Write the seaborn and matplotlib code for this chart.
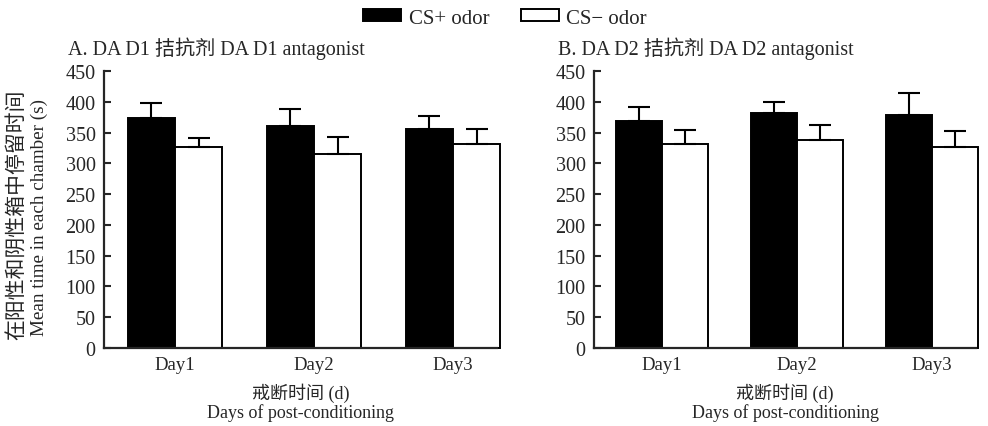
import numpy as np
import pandas as pd
import matplotlib
matplotlib.use('Agg')
import matplotlib.pyplot as plt
from matplotlib.patches import Patch
import seaborn as sns

days = ['Day1', 'Day2', 'Day3']
odors = ['CS+ odor', 'CS\u2212 odor']

# panel A: DA D1 antagonist
d1_plus = [373, 361, 355]
d1_plus_err = [25, 28, 22]
d1_minus = [326, 315, 331]
d1_minus_err = [15, 27, 24]

# panel B: DA D2 antagonist
d2_plus = [369, 382, 378]
d2_plus_err = [22, 18, 37]
d2_minus = [331, 338, 326]
d2_minus_err = [23, 24, 27]

titles = ['A. DA D1 拮抗剂 DA D1 antagonist', 'B. DA D2 拮抗剂 DA D2 antagonist']

sns.set_style('ticks')
FONTS = ['Liberation Serif', 'Noto Sans CJK SC', 'DejaVu Sans']
plt.rcParams['font.family'] = FONTS
plt.rcParams['font.size'] = 13
plt.rcParams['axes.unicode_minus'] = True

W, H = 988, 427
fig = plt.figure(figsize=(W / 100, H / 100), dpi=100)


def make_df(plus, plus_err, minus, minus_err):
    rows = []
    for i, d in enumerate(days):
        rows.append({'day': d, 'odor': odors[0], 'mean': plus[i], 'err': plus_err[i]})
        rows.append({'day': d, 'odor': odors[1], 'mean': minus[i], 'err': minus_err[i]})
    return pd.DataFrame(rows)


panels = [
    (make_df(d1_plus, d1_plus_err, d1_minus, d1_minus_err), (104, 497), -0.51, 2.317, 68),
    (make_df(d2_plus, d2_plus_err, d2_minus, d2_minus_err), (594, 976), -0.504, 2.326, 558),
]

for k, (df, (x0, x1), xl, xr, tx) in enumerate(panels):
    ax = fig.add_axes([x0 / W, 1 - 349 / H, (x1 - x0) / W, (349 - 72) / H])
    sns.barplot(data=df, x='day', y='mean', hue='odor', hue_order=odors, order=days,
                palette=['black', 'white'], edgecolor='black', linewidth=1.4,
                width=0.68, errorbar=None, legend=False, ax=ax)
    for p in ax.patches:
        p.set_clip_on(False)
    # one-sided (upper) error bars placed on the drawn bars
    bars = sorted(ax.patches, key=lambda p: p.get_x())
    for p, (_, row) in zip(bars, df.iterrows()):
        ax.errorbar(p.get_x() + p.get_width() / 2, p.get_height(),
                    yerr=[[0], [row['err']]], fmt='none', ecolor='black',
                    elinewidth=1.5, capsize=8, capthick=1.5, zorder=1)
    ax.set_ylim(0, 450)
    ax.set_yticks(np.arange(0, 451, 50))
    ax.set_xlim(xl, xr)
    ax.tick_params(axis='y', direction='in', length=5, width=1.5, labelsize=14.5, pad=6)
    ax.tick_params(axis='x', length=0, labelsize=13.5, pad=6)
    for s in ['left', 'bottom']:
        ax.spines[s].set_linewidth(1.6)
    sns.despine(ax=ax)
    ax.set_xlabel('')
    ax.set_ylabel('')
    cx = (x0 + x1) / 2 / W
    fig.text(cx, 1 - 393 / H, '戒断时间 (d)', ha='center', va='center', fontsize=13)
    fig.text(cx, 1 - 413 / H, 'Days of post-conditioning', ha='center', va='center', fontsize=13)
    fig.text(tx / W, 1 - 49 / H, titles[k], ha='left', va='center', fontsize=14.5)

fig.text(18 / W, 1 - 215 / H, '在阳性和阴性箱中停留时间', rotation=90,
         ha='center', va='center', fontsize=15)
fig.text(39 / W, 1 - 217 / H, 'Mean time in each chamber (s)', rotation=90,
         ha='center', va='center', fontsize=13.8)

handles = [Patch(facecolor='black', edgecolor='black', linewidth=1.4, label=odors[0]),
           Patch(facecolor='white', edgecolor='black', linewidth=1.4, label=odors[1])]
fig.legend(handles=handles, loc='center', bbox_to_anchor=(505 / W, 1 - 19 / H), ncol=2,
           frameon=False, fontsize=15, handlelength=1.85, handleheight=0.5,
           handletextpad=0.35, columnspacing=1.5)

fig.savefig('out.png', dpi=100)
